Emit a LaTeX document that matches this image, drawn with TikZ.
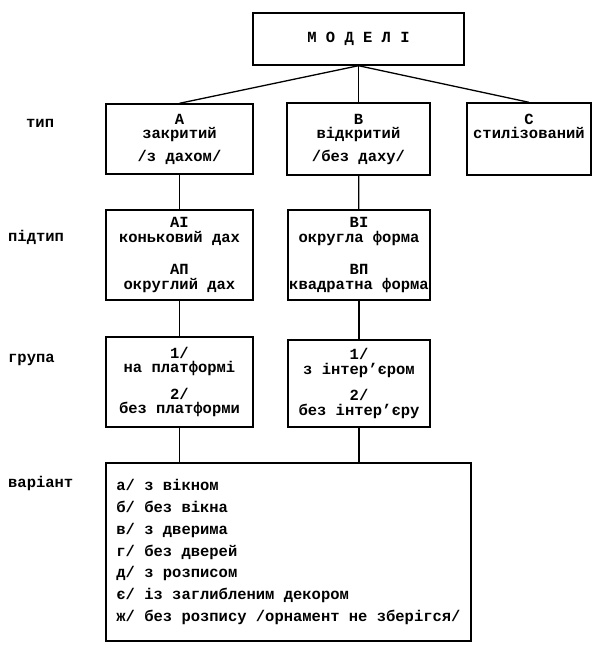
\documentclass[tikz,border=0pt]{standalone}
\usepackage{fontspec}
\setmainfont{Liberation Mono}
\usetikzlibrary{graphs}

\begin{document}
\begin{tikzpicture}[x=1pt,y=-1pt,
        box/.style={draw,line width=1.4pt,inner sep=0pt,align=center,font=\bfseries\fontsize{15.5}{15.5}\selectfont},
        lbl/.style={anchor=base west,inner sep=0pt,font=\bfseries\fontsize{15.5}{15.5}\selectfont},
        conn/.style={line width=1.3pt}]
            \useasboundingbox (0.000, 0.000) rectangle (593.000, 646.000);

            \node[box,minimum width=211pt,minimum height=52pt] (modeli) at (358.500, 39.000) {М О Д Е Л І};

            \node[box,minimum width=147pt,minimum height=70pt] (tipA) at (179.500, 139.000) {А\\[-1pt]закритий\\[7pt]/з дахом/};
            \node[box,minimum width=143pt,minimum height=72pt] (tipB) at (358.500, 139.000) {В\\[-1pt]відкритий\\[7pt]/без даху/};
            \node[box,minimum width=124pt,minimum height=72pt] (tipC) at (529.000, 139.000) {С\\[-1pt]стилізований\\[7pt]\vphantom{/з дахом/}};

            \node[box,minimum width=147pt,minimum height=90pt] (pidA) at (179.500, 255.000) {АІ\\[-1pt]коньковий дах\\[17pt]АП\\[-1pt]округлий дах};
            \node[box,minimum width=142pt,minimum height=90pt] (pidB) at (359.000, 255.000) {ВІ\\[-1pt]округла форма\\[17pt]ВП\\[-1pt]квадратна форма};

            \node[box,minimum width=147pt,minimum height=90pt] (grpA) at (179.500, 382.000) {1/\\[-1pt]на платформі\\[11pt]2/\\[-1pt]без платформи};
            \node[box,minimum width=142pt,minimum height=87pt] (grpB) at (359.000, 383.500) {1/\\[-1pt]з інтер'єром\\[11pt]2/\\[-1pt]без інтер'єру};

            \node[box,align=left,minimum width=365pt,minimum height=178pt,font=\bfseries\fontsize{15.5}{21.7}\selectfont] (variant) at (288.500, 552.000) {а/ з вікном\\б/ без вікна\\в/ з дверима\\г/ без дверей\\д/ з розписом\\є/ із заглибленим декором\\ж/ без розпису /орнамент не зберігся/};

            \node[lbl] (lTip) at (26.000, 127.000) {тип};
            \node[lbl] (lPidtip) at (8.000, 241.000) {підтип};
            \node[lbl] (lGrupa) at (8.000, 362.000) {група};
            \node[lbl] (lVariant) at (8.000, 487.000) {варіант};

            \draw[conn] (modeli.south) -- (tipA.north);
            \draw[conn] (modeli.south) -- (tipB.north);
            \draw[conn] (modeli.south) -- (tipC.north);
            \draw[conn] (tipA) -- (pidA);
            \draw[conn] (tipB) -- (pidB);
            \draw[conn] (pidA) -- (grpA);
            \draw[conn] (pidB) -- (grpB);
            \draw[conn] (grpA.south) -- (grpA.south |- variant.north);
            \draw[conn] (grpB.south) -- (grpB.south |- variant.north);
        \end{tikzpicture}
\end{document}
